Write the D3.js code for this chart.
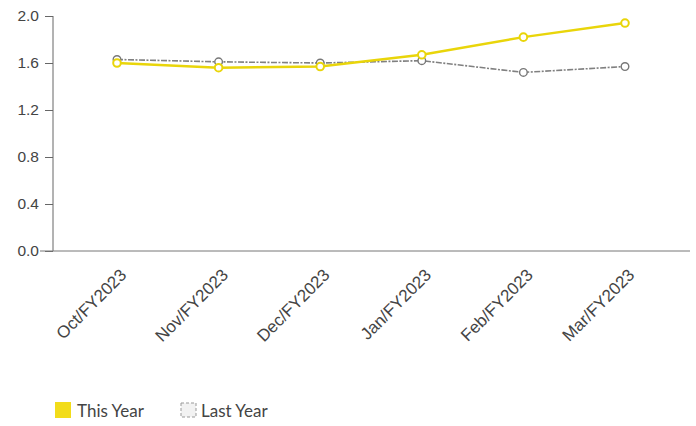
<!DOCTYPE html>
<html><head><meta charset="utf-8">
<script src="https://cdn.jsdelivr.net/npm/d3@7/dist/d3.min.js"></script>
<style>body{margin:0;background:#fff}</style>
</head><body>
<svg id="c" width="696" height="426"></svg>
<script>
const categories = ["Oct/FY2023","Nov/FY2023","Dec/FY2023","Jan/FY2023","Feb/FY2023","Mar/FY2023"];
const thisYear = [1.60, 1.56, 1.57, 1.67, 1.82, 1.94];
const lastYear = [1.63, 1.61, 1.60, 1.62, 1.52, 1.57];
const yTicks = [0, 0.4, 0.8, 1.2, 1.6, 2.0];
const seriesNames = ["This Year", "Last Year"];

const svg = d3.select("#c");
const x = d3.scalePoint().domain(categories).range([117, 625]);
const y = d3.scaleLinear().domain([0, 2]).range([251, 16]);

// y axis
const ya = svg.append("g").attr("transform","translate(53,0)")
  .call(d3.axisLeft(y).tickValues(yTicks).tickFormat(d3.format(".1f")).tickSize(8).tickPadding(6));
ya.select(".domain").attr("stroke","#666").attr("d","M0,16V251");
ya.selectAll(".tick line").attr("stroke","#666");
ya.selectAll("text").attr("font-family","Liberation Sans, Arial, sans-serif").attr("font-size",15.5).attr("fill","#444");

// x axis
const xa = svg.append("g").attr("transform","translate(0,251)")
  .call(d3.axisBottom(x).tickSize(0).tickPadding(0));
xa.select(".domain").attr("stroke","#777").attr("d","M40,0H690");
xa.selectAll(".tick text")
  .attr("font-family","Liberation Sans, Arial, sans-serif").attr("font-size",17).attr("fill","#444")
  .attr("text-anchor","end").attr("dy",null).attr("y",0)
  .attr("transform","translate(10,25) rotate(-45)");

const line = d3.line().x((d,i)=>x(categories[i])).y(d=>y(d));

// last year
svg.append("path").datum(lastYear).attr("d",line).attr("fill","none")
  .attr("stroke","#808080").attr("stroke-width",1.6).attr("stroke-dasharray","6,1.5,2,1.5");
svg.append("g").selectAll("circle").data(lastYear).join("circle")
  .attr("cx",(d,i)=>x(categories[i])).attr("cy",d=>y(d)).attr("r",3.8)
  .attr("fill","#fff").attr("stroke","#777").attr("stroke-width",1.4);

// this year
svg.append("path").datum(thisYear).attr("d",line).attr("fill","none")
  .attr("stroke","#e9d50a").attr("stroke-width",2.4);
svg.append("g").selectAll("circle").data(thisYear).join("circle")
  .attr("cx",(d,i)=>x(categories[i])).attr("cy",d=>y(d)).attr("r",3.8)
  .attr("fill","#fff").attr("stroke","#e9d50a").attr("stroke-width",2);

// legend
const lg = svg.append("g").attr("font-family","Lato, 'Open Sans', sans-serif").attr("font-size",17).attr("fill","#444");
lg.append("rect").attr("x",55).attr("y",402).attr("width",16).attr("height",16).attr("fill","#f2dc1a");
lg.append("text").attr("x",77).attr("y",417).text(seriesNames[0]);
lg.append("rect").attr("x",181).attr("y",403).attr("width",15).attr("height",14).attr("fill","#f2f2f2")
  .attr("stroke","#999").attr("stroke-width",1).attr("stroke-dasharray","3,2");
lg.append("text").attr("x",201).attr("y",417).text(seriesNames[1]);
</script>
</body></html>
